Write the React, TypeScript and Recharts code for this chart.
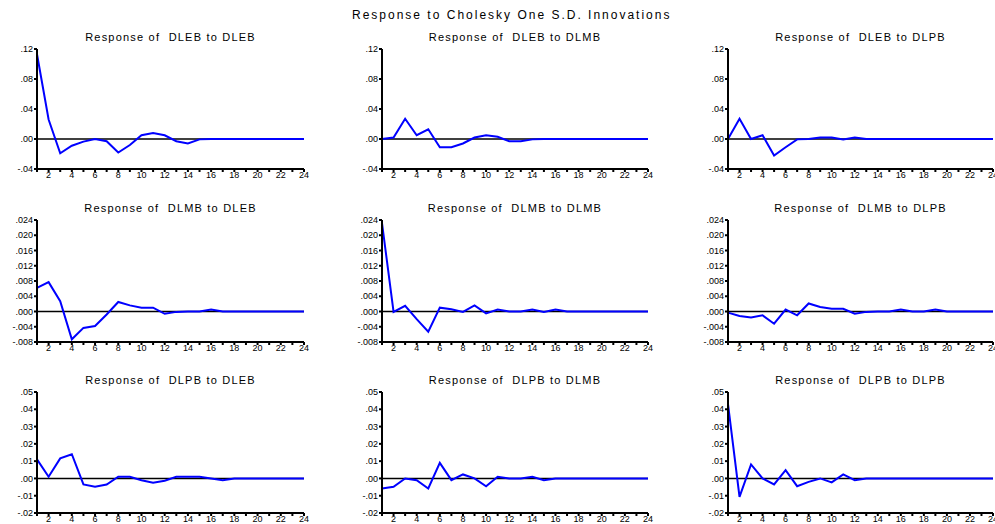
import React from "react";
import { LineChart, Line, XAxis, YAxis, ReferenceLine } from "recharts";

const periods = [1, 2, 3, 4, 5, 6, 7, 8, 9, 10, 11, 12, 13, 14, 15, 16, 17, 18, 19, 20, 21, 22, 23, 24];
const xTicks = periods;

const dlebDleb = [0.113, 0.026, -0.019, -0.009, -0.0035, 0, -0.003, -0.018, -0.008, 0.005, 0.008, 0.005, -0.003, -0.006, -0.0005, 0, 0, 0, 0, 0, 0, 0, 0, 0];
const dlebDlmb = [0, 0.002, 0.027, 0.005, 0.013, -0.011, -0.011, -0.006, 0.002, 0.005, 0.003, -0.003, -0.003, -0.0005, 0, 0, 0, 0, 0, 0, 0, 0, 0, 0];
const dlebDlpb = [0, 0.027, 0, 0.005, -0.022, -0.011, -0.0005, 0, 0.002, 0.002, -0.0005, 0.002, 0, 0, 0, 0, 0, 0, 0, 0, 0, 0, 0, 0];

const dlmbDleb = [0.0062, 0.0077, 0.0027, -0.0073, -0.0043, -0.0038, -0.0008, 0.0025, 0.0016, 0.001, 0.001, -0.0006, -0.0001, 0, 0, 0.0005, 0, 0, 0, 0, 0, 0, 0, 0];
const dlmbDlmb = [0.0232, -0.0001, 0.0015, -0.002, -0.0053, 0.001, 0.0006, -0.0001, 0.0016, -0.0005, 0.0005, 0, 0, 0.0005, -0.0001, 0.0005, 0, 0, 0, 0, 0, 0, 0, 0];
const dlmbDlpb = [-0.0003, -0.0012, -0.0016, -0.001, -0.0032, 0.0005, -0.001, 0.0021, 0.0012, 0.0007, 0.0007, -0.0006, -0.0001, 0, 0, 0.0005, 0, 0, 0.0005, 0, 0, 0, 0, 0];

const dlpbDleb = [0.011, 0.001, 0.0116, 0.014, -0.0035, -0.0048, -0.0035, 0.001, 0.001, -0.001, -0.0025, -0.0013, 0.001, 0.001, 0.001, 0, -0.001, 0, 0, 0, 0, 0, 0, 0];
const dlpbDlmb = [-0.0058, -0.0048, 0, -0.001, -0.0058, 0.009, -0.001, 0.0023, 0, -0.0045, 0.001, 0, 0, 0.001, -0.001, 0, 0, 0, 0, 0, 0, 0, 0, 0];
const dlpbDlpb = [0.043, -0.0107, 0.0081, 0, -0.0035, 0.0048, -0.0045, -0.002, 0, -0.0023, 0.0023, -0.001, 0, 0, 0, 0, 0, 0, 0, 0, 0, 0, 0, 0];

const row1Ticks = [-0.04, 0, 0.04, 0.08, 0.12];
const row2Ticks = [-0.008, -0.004, 0, 0.004, 0.008, 0.012, 0.016, 0.02, 0.024];
const row3Ticks = [-0.02, -0.01, 0, 0.01, 0.02, 0.03, 0.04, 0.05];

const colLeft = [37, 382, 728];
const colRight = [304, 648, 993];
const rowTop = [49, 220, 392];
const rowBottom = [169, 342, 513];

const FONT = "'Liberation Sans', Arial, sans-serif";

function evFormat(decimals: number) {
  return (v: number) => v.toFixed(decimals).replace("0.", ".");
}

type PanelProps = {
  title: string;
  values: number[];
  ticks: number[];
  decimals: number;
  col: number;
  row: number;
};

function Panel({ title, values, ticks, decimals, col, row }: PanelProps) {
  const data = periods.map((p, i) => ({ period: p, value: values[i] }));
  const axisW = 40;
  const padTop = 6;
  const plotW = colRight[col] - colLeft[col];
  const plotH = rowBottom[row] - rowTop[row];
  const left = colLeft[col] - axisW;
  const top = rowTop[row] - padTop;
  const width = plotW + axisW + 6;
  const height = plotH + padTop + 20;
  const tickStyle = { fontSize: 9, fill: "#000", fontFamily: FONT };

  return (
    <>
      <div
        style={{
          position: "absolute",
          left: colLeft[col],
          width: plotW,
          top: rowTop[row] - 18,
          textAlign: "center",
          fontFamily: FONT,
          fontSize: 11,
          letterSpacing: 1.2,
          color: "#000",
          whiteSpace: "pre"
        }}
      >
        {title}
      </div>
      <div style={{ position: "absolute", left, top }}>
        <LineChart width={width} height={height} data={data} margin={{ top: padTop, right: 6, bottom: 0, left: 0 }}>
          <XAxis
            dataKey="period"
            type="number"
            domain={[1, 24]}
            ticks={xTicks}
            interval={0}
            tickFormatter={(v: number) => (v % 2 === 0 ? String(v) : "")}
            tick={tickStyle}
            tickSize={3}
            tickMargin={0}
            stroke="#000"
            strokeWidth={2}
            height={20}
          />
          <XAxis xAxisId="top" orientation="top" dataKey="period" type="number" domain={[1, 24]} tick={false} tickLine={false} height={0} stroke="#000" strokeWidth={2} />
          <YAxis
            type="number"
            domain={[ticks[0], ticks[ticks.length - 1]]}
            ticks={ticks}
            interval={0}
            tickFormatter={evFormat(decimals)}
            tick={tickStyle}
            tickSize={3}
            tickMargin={1}
            stroke="#000"
            strokeWidth={2}
            width={axisW}
          />
          <YAxis yAxisId="right" orientation="right" domain={[ticks[0], ticks[ticks.length - 1]]} tick={false} tickLine={false} width={0} stroke="#000" strokeWidth={2} />
          <ReferenceLine y={0} stroke="#000" strokeWidth={1.5} />
          <Line type="linear" dataKey="value" stroke="#0000ff" strokeWidth={2} dot={false} isAnimationActive={false} />
        </LineChart>
      </div>
    </>
  );
}

export default function App() {
  return (
    <div style={{ position: "absolute", left: 0, top: 0, width: 995, height: 524, background: "#fff", overflow: "hidden" }}>
      <div
        style={{
          position: "absolute",
          left: 352,
          top: 8,
          fontFamily: FONT,
          fontSize: 12,
          letterSpacing: 2,
          color: "#000",
          whiteSpace: "pre"
        }}
      >
        Response to Cholesky One S.D. Innovations
      </div>
      <Panel title="Response of  DLEB to DLEB" values={dlebDleb} ticks={row1Ticks} decimals={2} col={0} row={0} />
      <Panel title="Response of  DLEB to DLMB" values={dlebDlmb} ticks={row1Ticks} decimals={2} col={1} row={0} />
      <Panel title="Response of  DLEB to DLPB" values={dlebDlpb} ticks={row1Ticks} decimals={2} col={2} row={0} />
      <Panel title="Response of  DLMB to DLEB" values={dlmbDleb} ticks={row2Ticks} decimals={3} col={0} row={1} />
      <Panel title="Response of  DLMB to DLMB" values={dlmbDlmb} ticks={row2Ticks} decimals={3} col={1} row={1} />
      <Panel title="Response of  DLMB to DLPB" values={dlmbDlpb} ticks={row2Ticks} decimals={3} col={2} row={1} />
      <Panel title="Response of  DLPB to DLEB" values={dlpbDleb} ticks={row3Ticks} decimals={2} col={0} row={2} />
      <Panel title="Response of  DLPB to DLMB" values={dlpbDlmb} ticks={row3Ticks} decimals={2} col={1} row={2} />
      <Panel title="Response of  DLPB to DLPB" values={dlpbDlpb} ticks={row3Ticks} decimals={2} col={2} row={2} />
    </div>
  );
}
